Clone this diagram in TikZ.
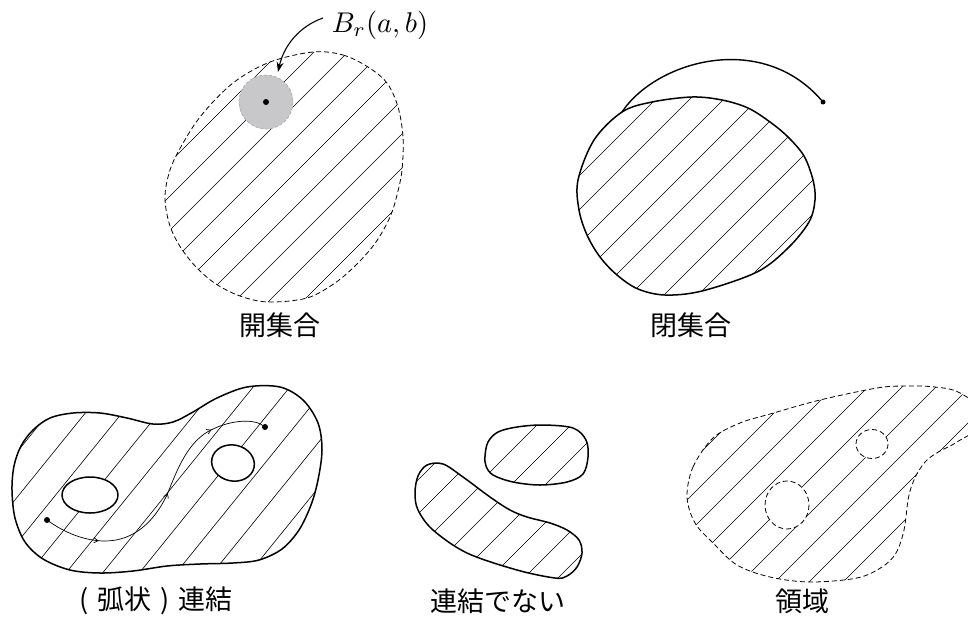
\documentclass[tikz,border=0pt]{standalone}
\usepackage{fontspec}
\newfontfamily\jpfont{Noto Sans CJK JP}
\usetikzlibrary{arrows.meta,decorations.markings}

\newcommand\hatchlines[6]{%
  \foreach \k in {#5,...,#6}{%
    \draw[hatchline] ({#1+(\k)*#3-400*cos(#4)},{#2+400*sin(#4)}) -- ({#1+(\k)*#3+400*cos(#4)},{#2-400*sin(#4)});
  }}

\def\openP{plot[smooth cycle, tension=0.55] coordinates {(313,52) (343,55) (368,67) (387,83) (398,107) (403,137) (402,170) (397,195) (390,217) (376,242) (357,264) (335,283) (307,298) (268,302) (240,296) (216,284) (197,268) (181,248) (170,226) (165,200) (168,177) (177,154) (200,117) (233,83) (270,62)}}
\def\closedP{plot[smooth cycle, tension=0.55] coordinates {(622,112) (652,102) (692,97) (722,100) (748,108) (770,122) (788,137) (804,156) (813,180) (815,200) (809,222) (788,248) (757,272) (702,291) (665,295) (638,289) (617,275) (600,257) (587,235) (579,210) (578,180) (594,140)}}
\def\connP{plot[smooth cycle, tension=0.55] coordinates {(12,490) (14,466) (21,446) (33,430) (50,418) (73,413) (100,413) (127,418) (153,424) (173,422) (193,412) (217,398) (247,387) (280,387) (303,400) (318,423) (322,450) (318,480) (311,505) (299,530) (282,549) (259,560) (233,563) (200,564) (167,566) (133,571) (100,573) (70,570) (43,559) (25,542) (15,518)}}
\def\topblobP{plot[smooth cycle, tension=0.55] coordinates {(485,456) (488,442) (498,432) (517,427) (543,425) (573,428) (586,440) (588,457) (583,474) (567,482) (540,485) (513,482) (493,475) (486,466)}}
\def\botblobP{plot[smooth cycle, tension=0.55] coordinates {(427,465) (443,464) (463,477) (490,497) (510,510) (527,517) (550,523) (567,530) (579,540) (582,553) (577,567) (567,576) (555,578) (517,570) (467,553) (433,530) (418,510) (415,493) (418,476)}}
\def\regionP{plot[smooth cycle, tension=0.55] coordinates {(687,497) (693,467) (713,438) (740,423) (770,414) (820,400) (877,388) (905,386) (935,387) (960,393) (990,418) (957,442) (940,451) (927,460) (918,472) (912,485) (908,500) (904,530) (896,553) (882,567) (857,578) (810,582) (770,577) (737,565) (713,543) (695,523)}}

\begin{document}
\begin{tikzpicture}[x=1pt,y=-1pt,
  hatchline/.style={line width=0.6pt},
  outline/.style={line width=1.5pt, line join=round},
  dashout/.style={line width=0.8pt, dash pattern=on 5pt off 3pt},
  lbl/.style={font=\jpfont\fontsize{27}{30}\selectfont, inner sep=0pt},
  dotnode/.style={circle, fill=black, inner sep=0pt, minimum size=6pt},
  thinpath/.style={line width=0.7pt,
    postaction={decorate},
    decoration={markings,
      mark=at position 0.2 with {\arrow{Straight Barb[length=4pt,width=5pt]}},
      mark=at position 0.52 with {\arrow{Straight Barb[length=4pt,width=5pt]}},
      mark=at position 0.8 with {\arrow{Straight Barb[length=4pt,width=5pt]}}}}]
\useasboundingbox (0,0) rectangle (968,616);
\begin{scope}
\clip (0,0) rectangle (968,616);

% ---------- open set ----------
\begin{scope}
  \clip \openP;
  \hatchlines{132}{200}{34}{45}{-2}{10}
\end{scope}
\draw[dashout] \openP;
\fill[fill={rgb,255:red,200;green,200;blue,202}] (266,102) circle (27);
\draw[line width=0.6pt, dash pattern=on 3pt off 2pt, draw=gray!70] (266,102) circle (27);
\node[dotnode] (ctr) at (266,102) {};
\node[inner sep=0pt, scale=2.85] (ball) at (380,25) {$B_r(a,b)$};
\coordinate (arS) at (323,18);
\coordinate (arE) at (278,72);
\draw[line width=1.1pt, -{Stealth[length=10pt,width=7pt]}] (arS) .. controls (300,26) and (284,45) .. (arE);
\node[lbl] (lopen) at (280,325) {開集合};

% ---------- closed set ----------
\begin{scope}
  \clip \closedP;
  \hatchlines{555}{200}{34}{45}{-1}{9}
\end{scope}
\draw[outline] \closedP;
\node[dotnode, minimum size=5pt] (cend) at (823,102) {};
\coordinate (cstart) at (622,112);
\draw[line width=1.4pt] (cstart) .. controls (655,62) and (760,30) .. (cend);
\node[lbl] (lclosed) at (691,325) {閉集合};

% ---------- connected ----------
\begin{scope}
  \clip \connP;
  \hatchlines{68.3}{570}{36.7}{51}{-5}{7}
\end{scope}
\draw[outline] \connP;
\draw[outline, fill=white] (90,495) ellipse [x radius=28, y radius=18];
\draw[outline, fill=white] (233,463) ellipse [x radius=21.5, y radius=18, rotate=-12];
\node[dotnode] (pa) at (47,520) {};
\node[dotnode] (pb) at (265,427) {};
\coordinate (m1) at (105,541);
\coordinate (m2) at (167,495);
\coordinate (m3) at (213,429);
\draw[thinpath] (pa.center) .. controls (65,533) and (85,541) .. (m1)
   .. controls (135,541) and (155,520) .. (m2)
   .. controls (177,470) and (188,440) .. (m3)
   .. controls (232,420) and (255,418) .. (pb.center);
\node[lbl] (lconn) at (152,601) {\makebox[27pt]{(}弧状\makebox[27pt]{)}連結};

% ---------- not connected ----------
\begin{scope}
  \clip \topblobP;
  \hatchlines{507}{455}{34}{45}{-2}{3}
\end{scope}
\draw[outline] \topblobP;
\begin{scope}
  \clip \botblobP;
  \hatchlines{480}{520}{34}{45}{-5}{6}
\end{scope}
\draw[outline] \botblobP;
\node[lbl] (lnot) at (498,601) {連結でない};

% ---------- region ----------
\begin{scope}
  \clip \regionP;
  \hatchlines{833}{490}{34}{45}{-6}{6}
\end{scope}
\draw[dashout] \regionP;
\draw[dashout, fill=white] (787,505) ellipse [x radius=22, y radius=24];
\draw[dashout, fill=white] (872,444) ellipse [x radius=16, y radius=14.5];
\node[lbl] (lreg) at (802,601) {領域};
\end{scope}
\end{tikzpicture}
\end{document}
